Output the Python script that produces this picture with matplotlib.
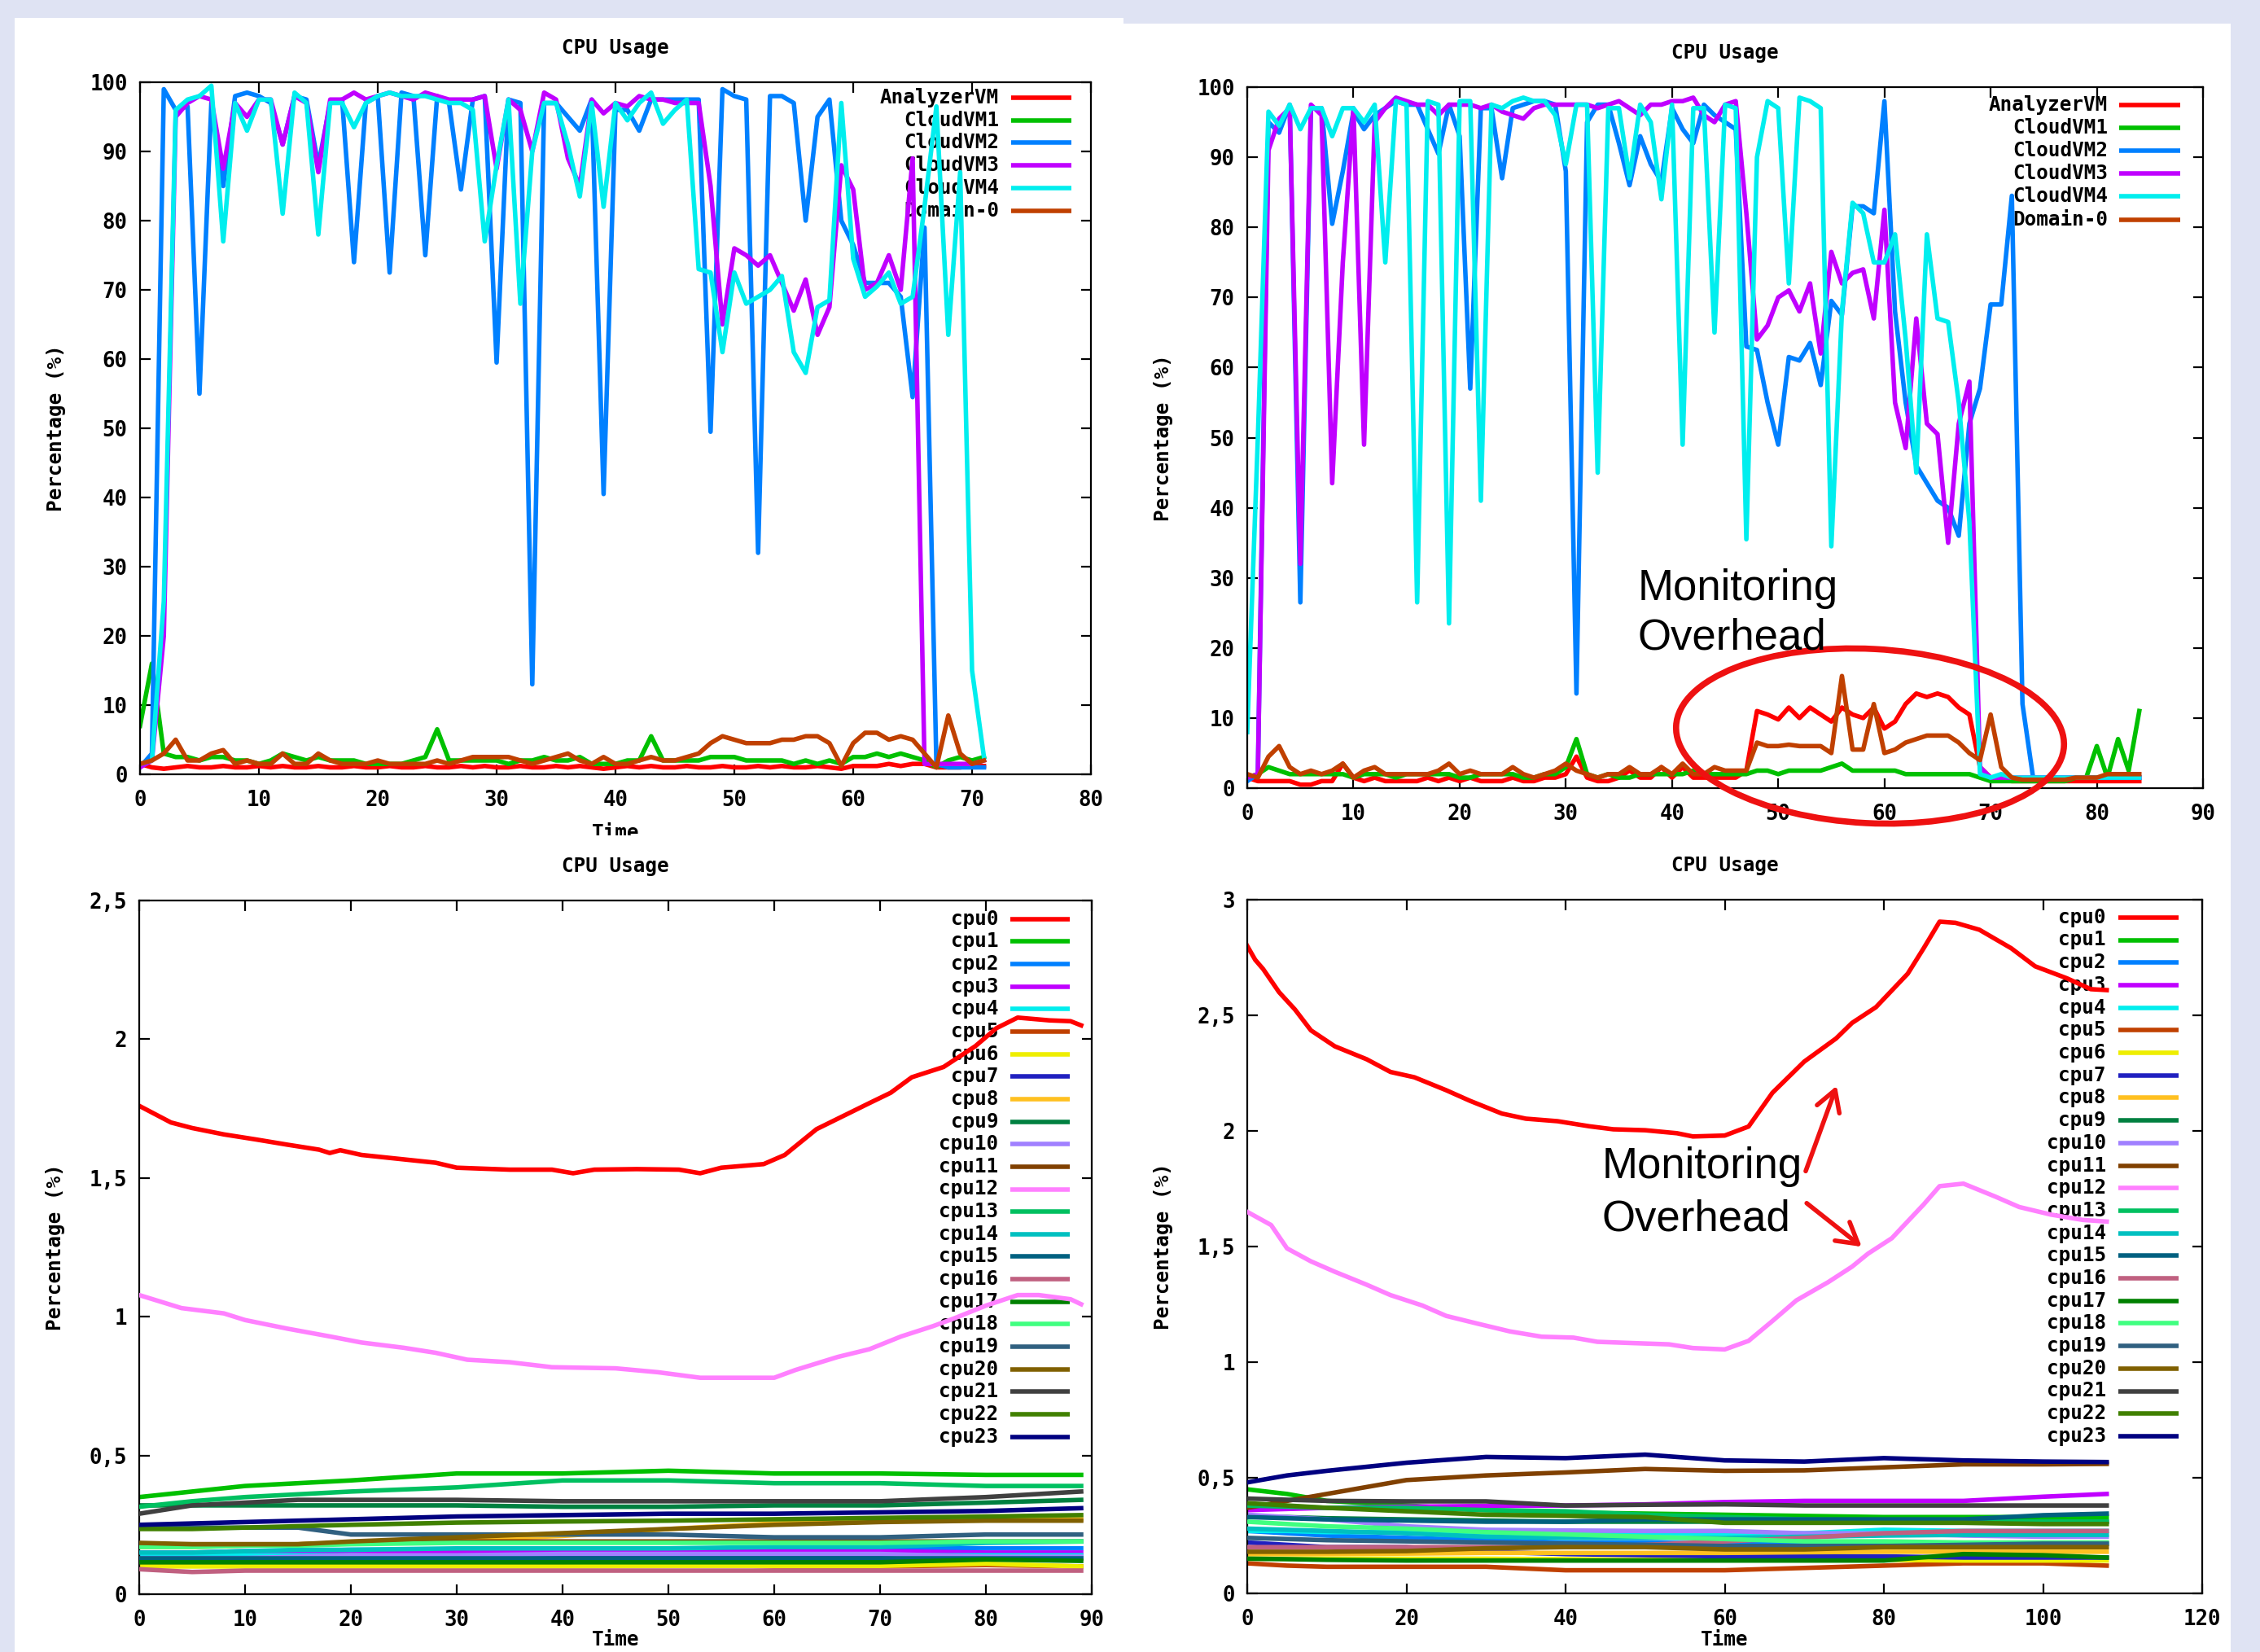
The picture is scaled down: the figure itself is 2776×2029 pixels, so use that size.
import numpy as np
import matplotlib
matplotlib.use("Agg")
import matplotlib.pyplot as plt
from matplotlib.patches import Rectangle, Ellipse, FancyArrowPatch
from matplotlib.ticker import FixedLocator

W, H, DPI = 2776, 2029, 100
plt.rcParams['font.family'] = ['DejaVu Sans Mono']
plt.rcParams['font.weight'] = 'bold'
plt.rcParams['font.size'] = 17.5

# ---------------- data: top panels (one sample per time unit) ----------------
VM_NAMES = ['AnalyzerVM', 'CloudVM1', 'CloudVM2', 'CloudVM3', 'CloudVM4', 'Domain-0']
VM_COLORS = ['#ff0000', '#00c000', '#0080ff', '#c000ff', '#00eeee', '#c04000']

TL_ANALYZER = [1.5, 1.0, 0.8, 1.0, 1.2, 1.0, 1.0, 1.2, 1.0, 1.0,
               1.2, 1.0, 1.2, 1.0, 1.0, 1.2, 1.0, 1.0, 1.2, 1.0,
               1.0, 1.2, 1.0, 1.0, 1.2, 1.0, 1.0, 1.2, 1.0, 1.2,
               1.0, 1.0, 1.2, 1.0, 1.0, 1.2, 1.0, 1.2, 1.0, 0.8,
               1.0, 1.2, 1.0, 1.2, 1.0, 1.0, 1.2, 1.0, 1.0, 1.2,
               1.0, 1.0, 1.2, 1.0, 1.2, 1.0, 1.0, 1.2, 1.0, 0.8,
               1.2, 1.2, 1.2, 1.5, 1.2, 1.5, 1.5, 1.0, 1.0, 1.0,
               1.2, 1.2]
TL_CLOUDVM1 = [7, 16, 3, 2.5, 2.5, 2, 2.5, 2.5, 2, 2,
               1.5, 2, 3, 2.5, 2, 2.5, 2, 2, 2, 1.5,
               1.5, 1.5, 1.5, 2, 2.5, 6.5, 2, 2, 2, 2,
               2, 1.5, 2, 2, 2.5, 2, 2, 2.5, 1.5, 1.5,
               1.5, 2, 2, 5.5, 2, 2, 2, 2, 2.5, 2.5,
               2.5, 2, 2, 2, 2, 1.5, 2, 1.5, 2, 1.5,
               2.5, 2.5, 3, 2.5, 3, 2.5, 2, 1, 2, 2.5,
               2, 2.5]
TL_CLOUDVM2 = [1, 3, 99, 96, 96.5, 55, 97, 85, 98, 98.5,
               98, 97, 91, 98, 97.5, 88, 97, 97.5, 74, 97,
               98, 72.5, 98.5, 98, 75, 98, 97, 84.5, 97.5, 98,
               59.5, 97.5, 97, 13, 97, 97, 95, 93, 97.5, 40.5,
               96, 96, 93, 97.5, 97.5, 97.5, 97.5, 97.5, 49.5, 99,
               98, 97.5, 32, 98, 98, 97, 80, 95, 97.5, 80,
               76.5, 71, 71, 71, 69, 54.5, 79, 1.5, 1, 1,
               1, 1]
TL_CLOUDVM3 = [1, 2, 20, 95, 97, 98, 97.5, 87.5, 97, 95,
               97.5, 97.5, 91, 98, 97, 87, 97.5, 97.5, 98.5, 97.5,
               98, 98.5, 98, 97.5, 98.5, 98, 97.5, 97.5, 97.5, 98,
               87.5, 97.5, 96, 90, 98.5, 97.5, 89, 85, 97.5, 95.5,
               97, 96.5, 98, 97.5, 97.5, 97, 97, 97, 85, 65,
               76, 75, 73.5, 75, 71, 67, 71.5, 63.5, 67.5, 88,
               84.5, 70, 71, 75, 70, 89, 1.5, 1.5, 1.5, 1.5,
               1.5, 2]
TL_CLOUDVM4 = [1.5, 2, 25, 96, 97.5, 98, 99.5, 77, 97, 93,
               97.5, 97.5, 81, 98.5, 97, 78, 97, 97, 93.5, 97,
               98, 98.5, 98, 98, 98, 97.5, 97, 97, 96, 77,
               88, 97.5, 68, 90, 97, 97, 91, 83.5, 97, 82,
               97, 94.5, 97, 98.5, 94, 96, 97.5, 73, 72.5, 61,
               72.5, 68, 69, 70, 72, 61, 58, 67.5, 68.5, 97,
               74.5, 69, 70.5, 72.5, 68, 69, 82, 96.5, 63.5, 87,
               15, 2.5]
TL_DOMAIN0 = [1.5, 2, 3, 5, 2, 2, 3, 3.5, 1.5, 2,
              1.5, 1.5, 3, 1.5, 1.5, 3, 2, 1.5, 1.5, 1.5,
              2, 1.5, 1.5, 1.5, 1.5, 2, 1.5, 2, 2.5, 2.5,
              2.5, 2.5, 2, 1.5, 2, 2.5, 3, 2, 1.5, 2.5,
              1.5, 1.5, 2, 2.5, 2, 2, 2.5, 3, 4.5, 5.5,
              5, 4.5, 4.5, 4.5, 5, 5, 5.5, 5.5, 4.5, 1.2,
              4.5, 6, 6, 5, 5.5, 5, 3, 1, 8.5, 3,
              1.5, 2]

TR_ANALYZER = [1.5, 1, 1, 1, 1, 0.5, 0.5, 1, 1, 3.5,
               1.5, 1, 1.5, 1, 1, 1, 1, 1.5, 1, 1.5,
               1, 1.5, 1, 1, 1, 1.5, 1, 1, 1.5, 1.5,
               2, 4.5, 1.5, 1, 1, 1.5, 2.5, 1.5, 1.5, 3,
               1.5, 3, 1.5, 1.5, 1.5, 1.5, 1.5, 2.5, 11, 10.5,
               9.8, 11.5, 10, 11.5, 10.5, 9.5, 11.5, 10.5, 10, 11.5,
               8.5, 9.5, 12, 13.5, 13, 13.5, 13, 11.5, 10.5, 3,
               1.5, 1.2, 1, 1, 1, 1, 1, 1, 1, 1,
               1, 1, 1, 1, 1]
TR_CLOUDVM1 = [1.5, 2, 3, 2.5, 2, 2, 2, 2, 2, 2,
               1.5, 2, 2, 2, 1.5, 2, 2, 2, 2, 2,
               1.5, 1.5, 2, 2, 2, 2, 1.5, 1.5, 2, 2,
               3, 7, 2, 1.5, 2, 1.5, 1.5, 2, 2, 2,
               2, 2, 2.5, 2, 2, 2, 2, 2, 2.5, 2.5,
               2, 2.5, 2.5, 2.5, 2.5, 3, 3.5, 2.5, 2.5, 2.5,
               2.5, 2.5, 2, 2, 2, 2, 2, 2, 2, 1.5,
               1, 1, 1, 1, 1, 1, 1, 1, 1.5, 1.5,
               6, 1.5, 7, 2.5, 11]
TR_CLOUDVM2 = [1, 2, 95, 93.5, 97.5, 26.5, 97, 97, 80.5, 88,
               96.5, 94, 96, 97, 98, 97.5, 97.5, 94, 90.5, 97.5,
               93, 57, 97, 97, 87, 97, 97.5, 98, 98, 97.5,
               88, 13.5, 95, 97.5, 97.5, 92, 86, 93, 89, 86.5,
               97, 94, 92, 97.5, 96, 95, 94, 63, 62.5, 55,
               49, 61.5, 61, 63.5, 57.5, 69.5, 67.5, 83, 83, 82,
               98, 68, 55, 46, 43.5, 41, 40, 36, 52, 57,
               69, 69, 84.5, 12, 1.5, 1.5, 1.5, 1.5, 1.5, 1.5,
               1.5, 1.5, 1.5, 1.5, 1.5]
TR_CLOUDVM3 = [1.5, 2, 91, 95.5, 97, 32, 97.5, 96, 43.5, 75,
               97, 49, 95, 97, 98.5, 98, 97.5, 97.5, 96, 97.5,
               97.5, 97.5, 97, 97.5, 96.5, 96, 95.5, 97, 97.5, 97.5,
               97.5, 97.5, 97.5, 97, 97.5, 98, 97, 96, 97.5, 97.5,
               98, 98, 98.5, 96, 95, 97.5, 98, 82, 64, 66,
               70, 71, 68, 72, 62, 76.5, 72, 73.5, 74, 67,
               82.5, 55, 48.5, 67, 52, 50.5, 35, 52, 58, 3,
               1.5, 1.5, 1.5, 1.5, 1.5, 1.5, 1.5, 1.5, 1.5, 1.5,
               1.5, 1.5, 1.5, 1.5, 1.5]
TR_CLOUDVM4 = [8, 50, 96.5, 94.5, 97.5, 94, 97, 97, 93, 97,
               97, 95, 97.5, 75, 98, 97.5, 26.5, 98, 97.5, 23.5,
               98, 98, 41, 97.5, 97, 98, 98.5, 98, 98, 96,
               89, 97.5, 97.5, 45, 97, 97, 87, 97.5, 95, 84,
               97.5, 49, 97, 97, 65, 97.5, 97, 35.5, 90, 98,
               97, 72, 98.5, 98, 97, 34.5, 68, 83.5, 82, 75,
               75, 79, 64, 45, 79, 67, 66.5, 55, 38, 2,
               1.5, 2, 1.5, 1.5, 1.5, 1.5, 1.5, 1.5, 1.5, 1.5,
               1.5, 1.5, 1.5, 1.5, 1.5]
TR_DOMAIN0 = [2, 1.5, 4.5, 6, 3, 2, 2.5, 2, 2.5, 3.5,
              1.5, 2.5, 3, 2, 2, 2, 2, 2, 2.5, 3.5,
              2, 2.5, 2, 2, 2, 3, 2, 1.5, 2, 2.5,
              3.5, 2.5, 2, 1.5, 2, 2, 3, 2, 2, 3,
              2, 3.5, 2, 2, 3, 2.5, 2.5, 2.5, 6.5, 6,
              6, 6.2, 6, 6, 6, 5, 16, 5.5, 5.5, 12,
              5, 5.5, 6.5, 7, 7.5, 7.5, 7.5, 6.5, 5, 4,
              10.5, 3, 1.5, 1.2, 1.2, 1.2, 1.2, 1.2, 1.5, 1.5,
              1.5, 2, 2, 2, 2]

# ---------------- data: bottom panels ----------------
CPU_COLORS = ['#ff0000', '#00c000', '#0080ff', '#c000ff', '#00eeee', '#c04000',
              '#eeee00', '#2020c0', '#ffc020', '#008040', '#a080ff', '#804000',
              '#ff80ff', '#00c060', '#00c0c0', '#006080', '#c06080', '#008000',
              '#40ff80', '#306080', '#806000', '#404040', '#408000', '#000080']

BL_CPU0_T = [0, 3, 5, 8, 11, 14, 17, 18, 19, 21, 25, 28, 30, 35, 39, 41, 43, 47, 51, 53,
             55, 59, 61, 64, 69, 71, 73, 76, 79, 81, 83, 86, 88, 89]
BL_CPU0 = [1.76, 1.70, 1.68, 1.657, 1.639, 1.62, 1.602, 1.59, 1.60, 1.583,
           1.567, 1.555, 1.537, 1.53, 1.53, 1.517, 1.53, 1.532, 1.53, 1.517,
           1.537, 1.55, 1.583, 1.676, 1.77, 1.807, 1.863, 1.90, 1.975, 2.04,
           2.078, 2.068, 2.065, 2.05]
BL_CPU12_T = [0, 4, 8, 10, 14, 18, 21, 25, 28, 31, 35, 39, 45, 49, 53, 56, 60, 62, 66, 69,
              72, 75, 77, 80, 83, 85, 88, 89]
BL_CPU12 = [1.078, 1.031, 1.012, 0.988, 0.957, 0.929, 0.907, 0.888, 0.87, 0.845,
            0.836, 0.818, 0.814, 0.80, 0.78, 0.78, 0.78, 0.808, 0.855, 0.883,
            0.929, 0.966, 0.994, 1.04, 1.078, 1.078, 1.063, 1.045]

BL_T = [0, 5, 10, 15, 20, 30, 40, 50, 60, 70, 80, 89]
BL_CPU1 = [0.35, 0.37, 0.39, 0.40, 0.41, 0.435, 0.435, 0.445, 0.435, 0.435, 0.43, 0.43]
BL_CPU2 = [0.15, 0.15, 0.155, 0.155, 0.16, 0.16, 0.16, 0.165, 0.165, 0.165, 0.165, 0.165]
BL_CPU3 = [0.15, 0.15, 0.15, 0.15, 0.155, 0.155, 0.155, 0.155, 0.155, 0.155, 0.15, 0.15]
BL_CPU4 = [0.14, 0.14, 0.14, 0.14, 0.14, 0.135, 0.14, 0.14, 0.14, 0.14, 0.14, 0.14]
BL_CPU5 = [0.11, 0.11, 0.11, 0.11, 0.11, 0.11, 0.11, 0.11, 0.10, 0.10, 0.105, 0.10]
BL_CPU6 = [0.10, 0.10, 0.10, 0.10, 0.10, 0.10, 0.10, 0.102, 0.102, 0.102, 0.11, 0.10]
BL_CPU7 = [0.13, 0.13, 0.13, 0.13, 0.13, 0.133, 0.133, 0.133, 0.133, 0.133, 0.13, 0.13]
BL_CPU8 = [0.17, 0.17, 0.175, 0.18, 0.185, 0.195, 0.21, 0.235, 0.255, 0.265, 0.27, 0.27]
BL_CPU9 = [0.32, 0.32, 0.32, 0.32, 0.32, 0.32, 0.315, 0.315, 0.32, 0.32, 0.33, 0.34]
BL_CPU10 = [0.13, 0.13, 0.13, 0.135, 0.14, 0.14, 0.145, 0.145, 0.145, 0.145, 0.135, 0.135]
BL_CPU11 = [0.18, 0.18, 0.18, 0.18, 0.185, 0.19, 0.19, 0.19, 0.19, 0.19, 0.19, 0.19]
BL_CPU13 = [0.315, 0.335, 0.35, 0.36, 0.37, 0.385, 0.41, 0.41, 0.40, 0.40, 0.39, 0.39]
BL_CPU14 = [0.15, 0.15, 0.155, 0.16, 0.16, 0.165, 0.165, 0.165, 0.17, 0.17, 0.185, 0.19]
BL_CPU15 = [0.13, 0.13, 0.13, 0.13, 0.13, 0.13, 0.13, 0.13, 0.13, 0.13, 0.13, 0.13]
BL_CPU16 = [0.09, 0.08, 0.085, 0.085, 0.085, 0.085, 0.085, 0.085, 0.085, 0.085, 0.085, 0.085]
BL_CPU17 = [0.115, 0.115, 0.115, 0.115, 0.115, 0.115, 0.115, 0.115, 0.115, 0.115, 0.125, 0.12]
BL_CPU18 = [0.17, 0.17, 0.175, 0.175, 0.18, 0.185, 0.185, 0.185, 0.185, 0.185, 0.19, 0.19]
BL_CPU19 = [0.24, 0.24, 0.24, 0.24, 0.215, 0.215, 0.215, 0.215, 0.205, 0.205, 0.215, 0.215]
BL_CPU20 = [0.185, 0.18, 0.18, 0.18, 0.19, 0.205, 0.22, 0.235, 0.25, 0.26, 0.265, 0.265]
BL_CPU21 = [0.29, 0.32, 0.33, 0.34, 0.34, 0.34, 0.335, 0.335, 0.335, 0.335, 0.35, 0.37]
BL_CPU22 = [0.235, 0.235, 0.24, 0.245, 0.25, 0.258, 0.262, 0.265, 0.27, 0.275, 0.28, 0.285]
BL_CPU23 = [0.25, 0.255, 0.26, 0.265, 0.27, 0.28, 0.285, 0.29, 0.29, 0.295, 0.30, 0.31]

BR_CPU0_T = [0, 1, 2, 4, 6, 8, 11, 15, 18, 21, 25, 28, 32, 35, 39, 43, 46, 50, 54, 56,
             60, 63, 66, 70, 74, 76, 79, 83, 85, 87, 89, 92, 96, 99, 103, 106, 108]
BR_CPU0 = [2.80, 2.74, 2.70, 2.60, 2.525, 2.435, 2.366, 2.31, 2.255, 2.232,
           2.176, 2.13, 2.075, 2.053, 2.042, 2.02, 2.007, 2.003, 1.99, 1.976,
           1.98, 2.019, 2.165, 2.30, 2.40, 2.467, 2.535, 2.68, 2.79, 2.905,
           2.90, 2.87, 2.79, 2.712, 2.66, 2.613, 2.609]
BR_CPU12_T = [0, 3, 5, 8, 11, 15, 18, 22, 25, 29, 33, 37, 41, 44, 48, 53, 56, 60, 63, 66,
              69, 73, 76, 78, 81, 85, 87, 90, 94, 97, 101, 105, 108]
BR_CPU12 = [1.65, 1.593, 1.492, 1.436, 1.391, 1.335, 1.29, 1.245, 1.20, 1.166,
            1.133, 1.11, 1.106, 1.088, 1.083, 1.077, 1.061, 1.055, 1.092, 1.178,
            1.267, 1.346, 1.413, 1.469, 1.536, 1.682, 1.761, 1.772, 1.716, 1.671,
            1.638, 1.615, 1.608]

BR_T = [0, 5, 10, 20, 30, 40, 50, 60, 70, 80, 90, 100, 108]
BR_CPU1 = [0.45, 0.43, 0.40, 0.38, 0.36, 0.35, 0.345, 0.34, 0.335, 0.33, 0.33, 0.33, 0.33]
BR_CPU2 = [0.27, 0.26, 0.25, 0.24, 0.23, 0.22, 0.22, 0.215, 0.215, 0.215, 0.215, 0.215, 0.215]
BR_CPU3 = [0.36, 0.365, 0.37, 0.375, 0.378, 0.38, 0.385, 0.395, 0.40, 0.40, 0.40, 0.418, 0.43]
BR_CPU4 = [0.27, 0.27, 0.265, 0.265, 0.26, 0.26, 0.26, 0.26, 0.26, 0.275, 0.27, 0.27, 0.27]
BR_CPU5 = [0.13, 0.12, 0.115, 0.115, 0.115, 0.10, 0.10, 0.10, 0.11, 0.12, 0.13, 0.13, 0.12]
BR_CPU6 = [0.15, 0.15, 0.15, 0.15, 0.15, 0.148, 0.145, 0.145, 0.145, 0.145, 0.142, 0.142, 0.142]
BR_CPU7 = [0.22, 0.21, 0.20, 0.20, 0.18, 0.17, 0.165, 0.16, 0.16, 0.16, 0.155, 0.155, 0.155]
BR_CPU8 = [0.17, 0.17, 0.17, 0.172, 0.175, 0.175, 0.175, 0.175, 0.178, 0.18, 0.18, 0.18, 0.18]
BR_CPU9 = [0.33, 0.33, 0.325, 0.32, 0.315, 0.31, 0.31, 0.31, 0.31, 0.31, 0.31, 0.31, 0.31]
BR_CPU10 = [0.34, 0.33, 0.32, 0.29, 0.275, 0.272, 0.27, 0.27, 0.26, 0.26, 0.25, 0.245, 0.245]
BR_CPU11 = [0.37, 0.40, 0.43, 0.49, 0.51, 0.523, 0.538, 0.53, 0.532, 0.545, 0.558, 0.558, 0.56]
BR_CPU13 = [0.38, 0.375, 0.37, 0.37, 0.36, 0.355, 0.34, 0.33, 0.32, 0.315, 0.312, 0.31, 0.31]
BR_CPU14 = [0.28, 0.275, 0.27, 0.26, 0.245, 0.24, 0.24, 0.24, 0.245, 0.25, 0.253, 0.253, 0.253]
BR_CPU15 = [0.33, 0.325, 0.32, 0.315, 0.31, 0.31, 0.32, 0.32, 0.32, 0.32, 0.32, 0.338, 0.345]
BR_CPU16 = [0.20, 0.20, 0.20, 0.20, 0.20, 0.20, 0.21, 0.225, 0.24, 0.26, 0.27, 0.27, 0.27]
BR_CPU17 = [0.15, 0.148, 0.145, 0.142, 0.142, 0.142, 0.142, 0.142, 0.142, 0.142, 0.17, 0.165, 0.155]
BR_CPU18 = [0.31, 0.30, 0.29, 0.28, 0.265, 0.255, 0.245, 0.235, 0.225, 0.225, 0.22, 0.22, 0.22]
BR_CPU19 = [0.24, 0.235, 0.23, 0.225, 0.22, 0.215, 0.21, 0.205, 0.205, 0.205, 0.21, 0.215, 0.215]
BR_CPU20 = [0.18, 0.18, 0.18, 0.183, 0.195, 0.2, 0.2, 0.19, 0.19, 0.2, 0.2, 0.2, 0.2]
BR_CPU21 = [0.41, 0.405, 0.40, 0.398, 0.398, 0.38, 0.383, 0.385, 0.38, 0.38, 0.38, 0.38, 0.38]
BR_CPU22 = [0.39, 0.38, 0.37, 0.355, 0.34, 0.335, 0.33, 0.305, 0.305, 0.305, 0.305, 0.30, 0.30]
BR_CPU23 = [0.48, 0.51, 0.53, 0.565, 0.59, 0.585, 0.60, 0.575, 0.57, 0.585, 0.575, 0.57, 0.568]

# ---------------- figure ----------------
LW = 4.0
fig = plt.figure(figsize=(W / DPI, H / DPI), dpi=DPI)
fig.patch.set_facecolor('#dfe3f3')


def panel(x0, y0, x1, y1, z):
    fig.add_artist(Rectangle((x0 / W, 1 - y1 / H), (x1 - x0) / W, (y1 - y0) / H,
                             transform=fig.transFigure, facecolor='white',
                             edgecolor='none', zorder=z))


panel(18, 22, 1380, 1026, -3)
panel(1380, 29, 2740, 1026, -3)
panel(18, 1026, 1380, 2029, -1.5)
panel(1380, 1026, 2740, 2029, -1.5)


def make_axes(box, z, xmax, xticks, ymax, yticks, ylabels, time_gap, time_va):
    l, t, r, b = box
    ax = fig.add_axes([l / W, 1 - b / H, (r - l) / W, (b - t) / H])
    ax.set_zorder(z)
    ax.set_xlim(0, xmax)
    ax.set_ylim(0, ymax)
    ax.xaxis.set_major_locator(FixedLocator(xticks))
    ax.set_xticklabels([str(v) for v in xticks])
    ax.yaxis.set_major_locator(FixedLocator(yticks))
    ax.set_yticklabels(ylabels)
    ax.tick_params(direction='in', top=True, right=True, length=9, width=1.6,
                   labelsize=18.5)
    ax.tick_params(axis='x', pad=14)
    ax.tick_params(axis='y', pad=11)
    for s in ax.spines.values():
        s.set_linewidth(1.6)
    w, h = r - l, b - t
    ax.text(0.5, 1 + 42 / h, 'CPU Usage', transform=ax.transAxes,
            ha='center', va='center')
    if time_gap is not None:
        ax.text(0.5, -time_gap / h, 'Time', transform=ax.transAxes, ha='center',
                va=time_va, clip_on=False)
    ax.text(-103 / w, 0.5, 'Percentage (%)', rotation=90, transform=ax.transAxes,
            ha='center', va='center')
    return ax


def legend(ax, box, names, colors, text_right, lx0, lx1, y0, dy):
    l, t, r, b = box
    for i, (n, c) in enumerate(zip(names, colors)):
        ay = (b - (y0 + i * dy)) / (b - t)
        ax.text((text_right - l) / (r - l), ay, n, transform=ax.transAxes,
                ha='right', va='center', zorder=1.5)
        ax.plot([(lx0 - l) / (r - l), (lx1 - l) / (r - l)], [ay, ay],
                transform=ax.transAxes, color=c, lw=LW, solid_capstyle='butt',
                zorder=1.5, clip_on=False)


pct_ticks = list(range(0, 101, 10))
pct_labels = [str(v) for v in pct_ticks]

# top-left
TL_BOX = (172, 101, 1340, 951)
ax1 = make_axes(TL_BOX, -2, 80, list(range(0, 81, 10)), 100, pct_ticks, pct_labels,
                60, 'top')
legend(ax1, TL_BOX, VM_NAMES, VM_COLORS, 1227, 1242, 1316, 120, 27.7)
for i, (v, c) in enumerate(zip([TL_ANALYZER, TL_CLOUDVM1, TL_CLOUDVM2, TL_CLOUDVM3,
                                TL_CLOUDVM4, TL_DOMAIN0], VM_COLORS)):
    ax1.plot(np.arange(len(v)), v, color=c, lw=LW, zorder=2 + i * 0.1)

# top-right (its "Time" label lies below the panel edge and is not visible)
TR_BOX = (1532, 107, 2706, 968)
ax2 = make_axes(TR_BOX, -2, 90, list(range(0, 91, 10)), 100, pct_ticks, pct_labels,
                None, 'top')
legend(ax2, TR_BOX, VM_NAMES, VM_COLORS, 2589, 2603, 2678, 129, 28.1)
for i, (v, c) in enumerate(zip([TR_ANALYZER, TR_CLOUDVM1, TR_CLOUDVM2, TR_CLOUDVM3,
                                TR_CLOUDVM4, TR_DOMAIN0], VM_COLORS)):
    ax2.plot(np.arange(len(v)), v, color=c, lw=LW, zorder=2 + i * 0.1)

CPU_NAMES = ['cpu%d' % i for i in range(24)]

# bottom-left
BL_BOX = (171, 1106, 1341, 1958)
ax3 = make_axes(BL_BOX, 0, 90, list(range(0, 91, 10)), 2.5,
                [0, 0.5, 1, 1.5, 2, 2.5], ['0', '0,5', '1', '1,5', '2', '2,5'],
                68, 'bottom')
legend(ax3, BL_BOX, CPU_NAMES, CPU_COLORS, 1226, 1241, 1314, 1128.7, 27.65)
BL_SERIES = [(BL_CPU0_T, BL_CPU0), (BL_T, BL_CPU1), (BL_T, BL_CPU2), (BL_T, BL_CPU3),
             (BL_T, BL_CPU4), (BL_T, BL_CPU5), (BL_T, BL_CPU6), (BL_T, BL_CPU7),
             (BL_T, BL_CPU8), (BL_T, BL_CPU9), (BL_T, BL_CPU10), (BL_T, BL_CPU11),
             (BL_CPU12_T, BL_CPU12), (BL_T, BL_CPU13), (BL_T, BL_CPU14), (BL_T, BL_CPU15),
             (BL_T, BL_CPU16), (BL_T, BL_CPU17), (BL_T, BL_CPU18), (BL_T, BL_CPU19),
             (BL_T, BL_CPU20), (BL_T, BL_CPU21), (BL_T, BL_CPU22), (BL_T, BL_CPU23)]
for i, ((tt, v), c) in enumerate(zip(BL_SERIES, CPU_COLORS)):
    ax3.plot(tt, v, color=c, lw=LW, zorder=2 + i * 0.05)

# bottom-right
BR_BOX = (1532, 1105, 2705, 1957)
ax4 = make_axes(BR_BOX, 0, 120, list(range(0, 121, 20)), 3,
                [0, 0.5, 1, 1.5, 2, 2.5, 3], ['0', '0,5', '1', '1,5', '2', '2,5', '3'],
                69, 'bottom')
legend(ax4, BR_BOX, CPU_NAMES, CPU_COLORS, 2587, 2602, 2676, 1126.8, 27.7)
BR_SERIES = [(BR_CPU0_T, BR_CPU0), (BR_T, BR_CPU1), (BR_T, BR_CPU2), (BR_T, BR_CPU3),
             (BR_T, BR_CPU4), (BR_T, BR_CPU5), (BR_T, BR_CPU6), (BR_T, BR_CPU7),
             (BR_T, BR_CPU8), (BR_T, BR_CPU9), (BR_T, BR_CPU10), (BR_T, BR_CPU11),
             (BR_CPU12_T, BR_CPU12), (BR_T, BR_CPU13), (BR_T, BR_CPU14), (BR_T, BR_CPU15),
             (BR_T, BR_CPU16), (BR_T, BR_CPU17), (BR_T, BR_CPU18), (BR_T, BR_CPU19),
             (BR_T, BR_CPU20), (BR_T, BR_CPU21), (BR_T, BR_CPU22), (BR_T, BR_CPU23)]
for i, ((tt, v), c) in enumerate(zip(BR_SERIES, CPU_COLORS)):
    ax4.plot(tt, v, color=c, lw=LW, zorder=2 + i * 0.05)

# ---------------- annotations (figure inches, origin bottom-left) ----------------
IN = fig.dpi_scale_trans
ANN_FONT = dict(family=['Liberation Sans', 'DejaVu Sans'], weight='normal', size=38)
fig.text(20.12, (H - 737) / DPI, 'Monitoring', transform=IN, va='baseline',
         ha='left', zorder=10, **ANN_FONT)
fig.text(20.12, (H - 797) / DPI, 'Overhead', transform=IN, va='baseline',
         ha='left', zorder=10, **ANN_FONT)
fig.add_artist(Ellipse((22.97, (H - 904) / DPI), 4.77, 2.14, angle=-3,
                       transform=IN, facecolor='none', edgecolor='#ee1111',
                       lw=5.5, zorder=10))

fig.text(19.68, (H - 1447) / DPI, 'Monitoring', transform=IN, va='baseline',
         ha='left', zorder=10, **ANN_FONT)
fig.text(19.68, (H - 1511) / DPI, 'Overhead', transform=IN, va='baseline',
         ha='left', zorder=10, **ANN_FONT)
for (xa, ya), (xb, yb) in [((2217, 1441), (2257, 1331)), ((2217, 1476), (2289, 1533))]:
    fig.add_artist(FancyArrowPatch((xa / DPI, (H - ya) / DPI), (xb / DPI, (H - yb) / DPI),
                                   transform=IN, arrowstyle='->,head_length=0.6,head_width=0.35',
                                   mutation_scale=30, color='#ee1111', lw=4, zorder=10))

fig.savefig('out.png', dpi=DPI, facecolor=fig.get_facecolor())
